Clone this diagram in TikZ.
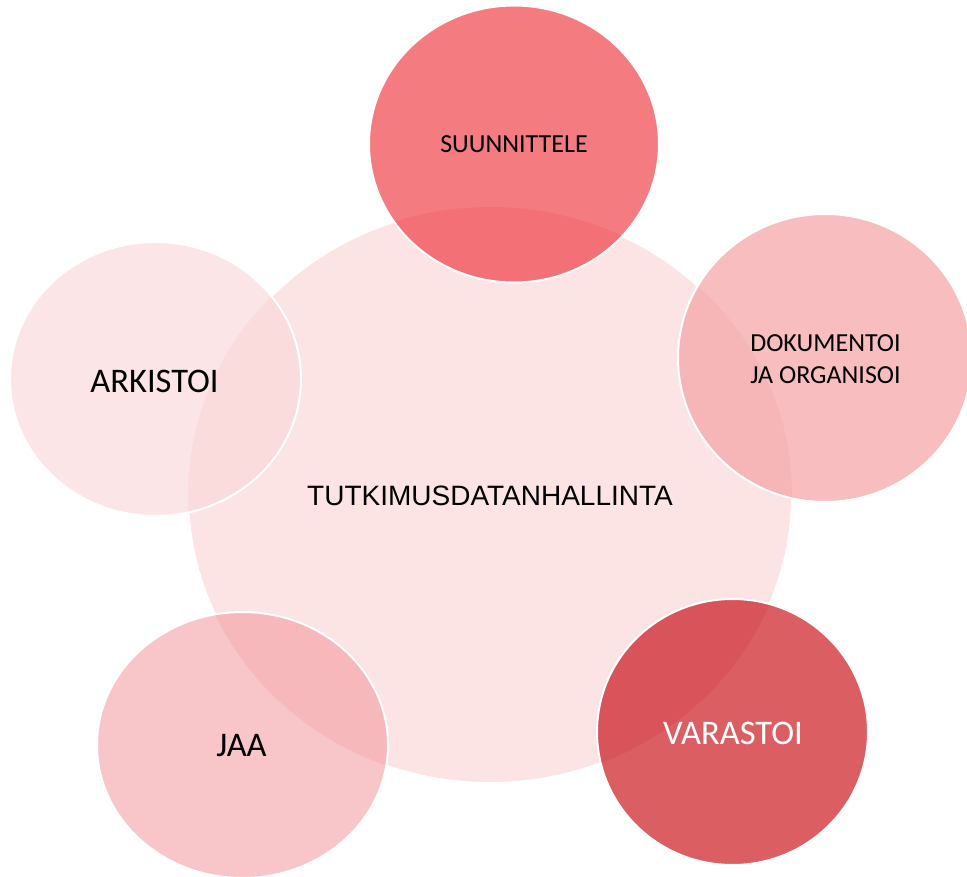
\documentclass[tikz,border=0pt]{standalone}
\usepackage{fontspec}
\setmainfont{Carlito}
\newfontfamily\arialf{Liberation Sans}
\definecolor{bigc}{HTML}{FCE4E5}
\definecolor{suunc}{HTML}{F47C80}
\definecolor{suunov}{HTML}{F27076}
\definecolor{dokc}{HTML}{F8BDBE}
\definecolor{dokov}{HTML}{F6B6B8}
\definecolor{varc}{HTML}{DB5E62}
\definecolor{varov}{HTML}{D8535A}
\definecolor{jaac}{HTML}{F8C6C8}
\definecolor{jaaov}{HTML}{F7B8BB}
\definecolor{arkc}{HTML}{FCE5E6}
\definecolor{arkov}{HTML}{FADCDD}
\tikzset{
  rim/.style={draw=white, line width=2pt},
  lbl/.style={align=center, text=black, inner sep=0pt},
}
\begin{document}
\begin{tikzpicture}[x=1pt,y=-1pt]
\useasboundingbox (0,0) rectangle (967,877);
\clip (0,0) rectangle (967,877);
% centres
\coordinate (cbig) at (490,495);
\coordinate (csuun) at (514,144);
\coordinate (cdok) at (825,358);
\coordinate (cvar) at (732.5,732);
\coordinate (cjaa) at (242.5,745);
\coordinate (cark) at (155.5,379);
% big circle
\fill[bigc] (cbig) ellipse [x radius=302, y radius=288];
\draw[rim] (cbig) ellipse [x radius=302, y radius=288];
% small circles: fill, overlap, rim
\foreach \c/\rx/\ry/\fc/\oc in {csuun/145/138.5/suunc/suunov, cdok/147/144/dokc/dokov, cvar/135.5/133/varc/varov, cjaa/145.5/133/jaac/jaaov, cark/145.5/137/arkc/arkov}{
  \fill[\fc] (\c) ellipse [x radius=\rx, y radius=\ry];
  \begin{scope}
    \clip (\c) ellipse [x radius=\rx, y radius=\ry];
    \fill[\oc] (cbig) ellipse [x radius=302, y radius=288];
  \end{scope}
  \draw[rim] (\c) ellipse [x radius=\rx, y radius=\ry];
}
% labels
\node[lbl, font=\arialf\fontsize{28}{32}\selectfont] (tbig) at (490,496) {TUTKIMUSDATANHALLINTA};
\node[lbl, font=\fontsize{26}{32}\selectfont] (tsuun) at (514,144) {SUUNNITTELE};
\node[lbl, font=\fontsize{26}{32}\selectfont] (tdok) at (825.5,359) {DOKUMENTOI\\JA ORGANISOI};
\node[lbl, font=\fontsize{34.5}{40}\selectfont, text=white] (tvar) at (733,733) {VARASTOI};
\node[lbl, font=\fontsize{34.5}{40}\selectfont] (tjaa) at (241.5,746) {JAA};
\node[lbl, font=\fontsize{34.5}{40}\selectfont] (tark) at (154.5,381) {ARKISTOI};
\end{tikzpicture}
\end{document}
